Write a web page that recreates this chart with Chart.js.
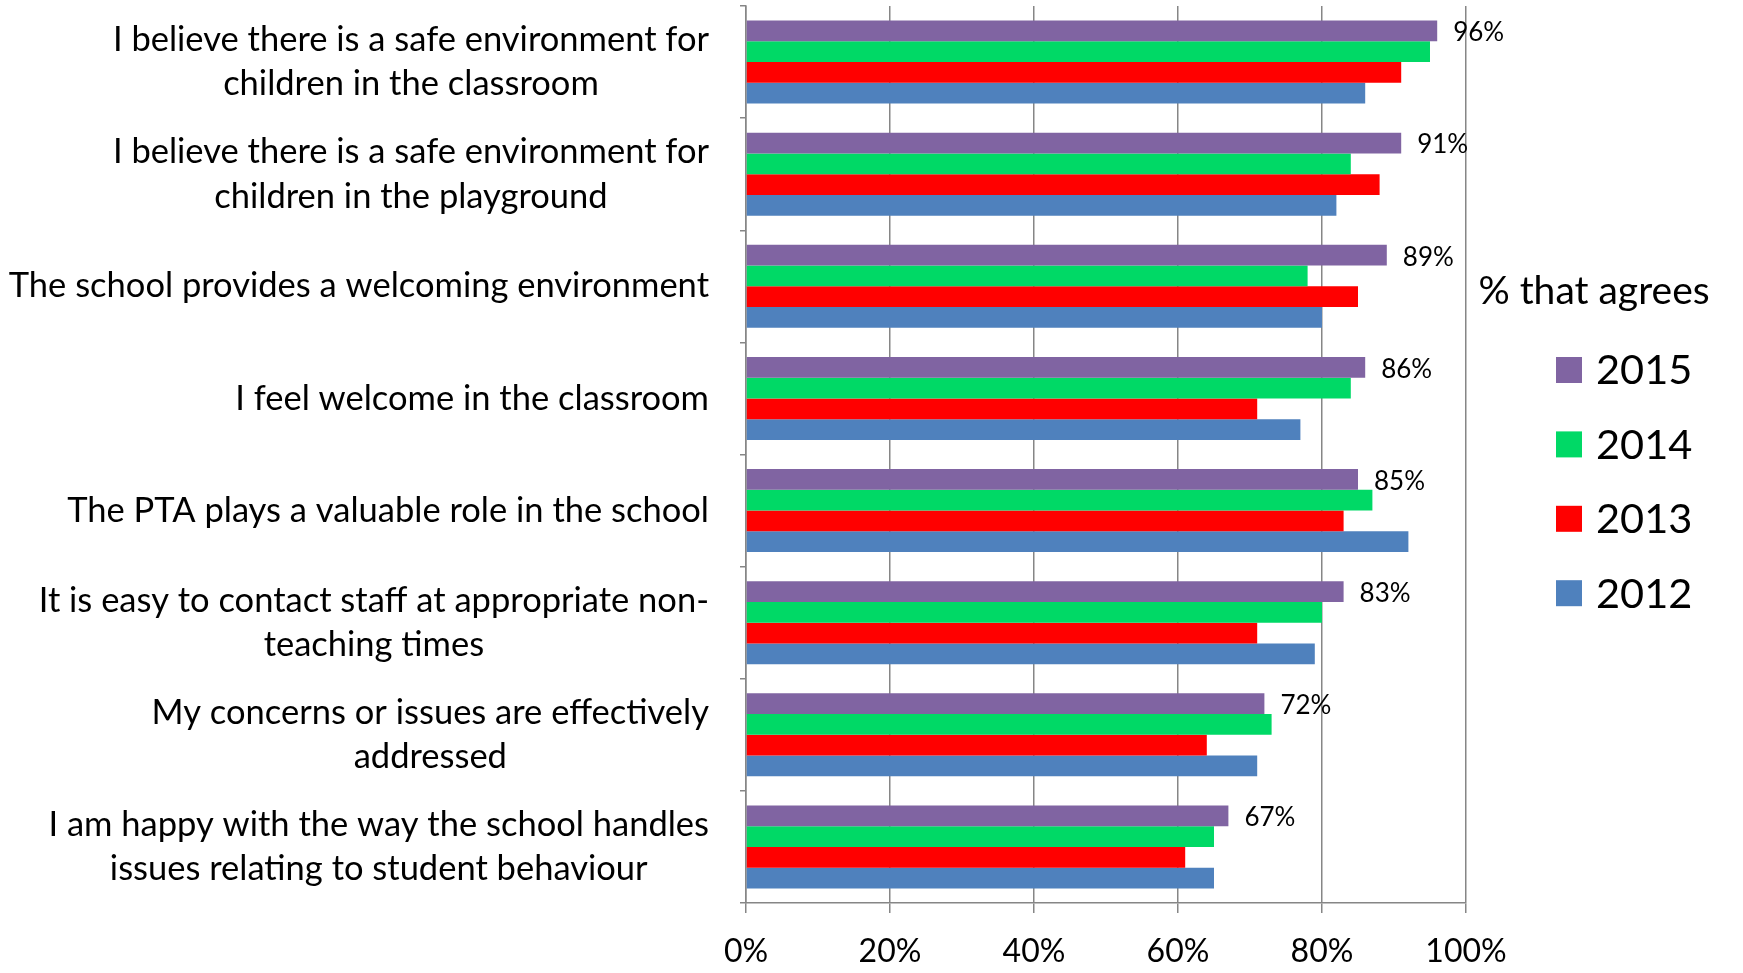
<!DOCTYPE html>
<html>
<head>
<title>% that agrees</title>
<script src="https://cdn.jsdelivr.net/npm/chart.js@4.4.0/dist/chart.umd.min.js"></script>
<style>
body { margin: 0; background: #fff; }
</style>
</head>
<body>
<canvas id="myCanvas" width="1743" height="973"></canvas>
<script>
var questions = [
  ['I believe there is a safe environment for', 'children in the classroom'],
  ['I believe there is a safe environment for', 'children in the playground'],
  ['The school provides a welcoming environment'],
  ['I feel welcome in the classroom'],
  ['The PTA plays a valuable role in the school'],
  ['It is easy to contact staff at appropriate non-', 'teaching times'],
  ['My concerns or issues are effectively', 'addressed'],
  ['I am happy with the way the school handles', 'issues relating to student behaviour']
];
var years = ['2015', '2014', '2013', '2012'];
var val2015 = [96, 91, 89, 86, 85, 83, 72, 67];
var val2014 = [95, 84, 78, 84, 87, 80, 73, 65];
var val2013 = [91, 88, 85, 71, 83, 71, 64, 61];
var val2012 = [86, 82, 80, 77, 92, 79, 71, 65];
var xTicks = [0, 20, 40, 60, 80, 100];
var legendTitle = '% that agrees';

var FONT = 'Lato';
var gridGrey = '#868686';

// category labels: block right aligned, lines centred inside the block
var questionLabels = {
  id: 'questionLabels',
  afterDraw: function(chart) {
    var ctx = chart.ctx;
    var y = chart.scales.y;
    ctx.save();
    ctx.font = '34.5px ' + FONT;
    ctx.fillStyle = '#000';
    ctx.textAlign = 'center';
    ctx.textBaseline = 'middle';
    var right = y.right - 37;
    questions.forEach(function(lines, i) {
      var w = Math.max.apply(null, lines.map(function(l) { return ctx.measureText(l).width; }));
      var cx = right - w / 2;
      var cy = y.getPixelForValue(i);
      lines.forEach(function(l, j) {
        ctx.fillText(l, cx, cy + (j - (lines.length - 1) / 2) * 44.6);
      });
    });
    ctx.restore();
  }
};

// % labels only on the 2015 bars
var valueLabels = {
  id: 'valueLabels',
  afterDatasetsDraw: function(chart) {
    var ctx = chart.ctx;
    var meta = chart.getDatasetMeta(0);
    ctx.save();
    ctx.font = '26px ' + FONT;
    ctx.fillStyle = '#000';
    ctx.textAlign = 'left';
    ctx.textBaseline = 'middle';
    meta.data.forEach(function(bar, i) {
      ctx.fillText(val2015[i] + '%', bar.x + 16, bar.y + 2);
    });
    ctx.restore();
  }
};

// legend on the right, like the excel one
var sideLegend = {
  id: 'sideLegend',
  afterDraw: function(chart) {
    var ctx = chart.ctx;
    var left = chart.chartArea.right;
    ctx.save();
    ctx.fillStyle = '#000';
    ctx.textBaseline = 'middle';
    ctx.textAlign = 'center';
    ctx.font = '39px ' + FONT;
    ctx.fillText(legendTitle, left + 128, 291);
    ctx.textAlign = 'left';
    ctx.font = '41.5px ' + FONT;
    chart.data.datasets.forEach(function(ds, i) {
      var cy = 370 + i * 74.4;
      ctx.fillStyle = ds.backgroundColor;
      ctx.fillRect(left + 90, cy - 13, 26, 26);
      ctx.fillStyle = '#000';
      ctx.fillText(ds.label, left + 130, cy + 1);
    });
    ctx.restore();
  }
};

new Chart(document.getElementById('myCanvas'), {
  type: 'bar',
  data: {
    labels: questions.map(function(q) { return q.join(' '); }),
    datasets: [
      { label: years[0], data: val2015, backgroundColor: '#8064A2' },
      { label: years[1], data: val2014, backgroundColor: '#00D966' },
      { label: years[2], data: val2013, backgroundColor: '#FF0000' },
      { label: years[3], data: val2012, backgroundColor: '#4F81BD' }
    ]
  },
  options: {
    indexAxis: 'y',
    responsive: false,
    animation: false,
    layout: { padding: { top: 6, right: 277, left: 0, bottom: 0 } },
    datasets: { bar: { categoryPercentage: 0.74, barPercentage: 1.0, borderWidth: 0 } },
    plugins: {
      legend: { display: false },
      tooltip: { enabled: false }
    },
    scales: {
      x: {
        min: 0,
        max: 100,
        afterBuildTicks: function(s) { s.ticks = xTicks.map(function(v) { return { value: v }; }); },
        afterFit: function(s) { s.height = 70; },
        ticks: {
          color: '#000',
          padding: 19,
          maxRotation: 0,
          font: { family: FONT, size: 32 },
          callback: function(v) { return v + '%'; }
        },
        grid: { color: gridGrey, lineWidth: 1.5, tickLength: 10 },
        border: { color: gridGrey, width: 1.5 }
      },
      y: {
        afterFit: function(s) { s.width = 746; },
        ticks: { display: false },
        grid: { color: gridGrey, lineWidth: 1.5, drawOnChartArea: false, tickLength: 6, offset: true },
        border: { color: gridGrey, width: 1.5 }
      }
    }
  },
  plugins: [questionLabels, valueLabels, sideLegend]
});
</script>
</body>
</html>
